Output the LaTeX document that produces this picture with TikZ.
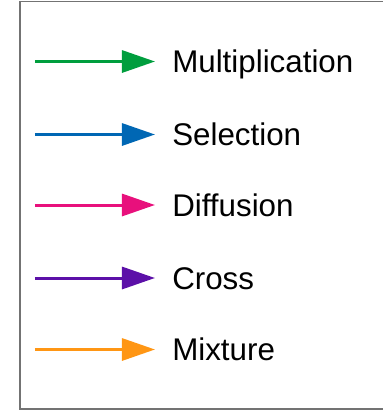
\documentclass[tikz,border=0pt]{standalone}
\usepackage{fontspec}
\setmainfont{Liberation Sans}
\usepackage{tikz}
\usetikzlibrary{arrows.meta}
\definecolor{c_mult}{RGB}{0,158,62}
\definecolor{c_sel}{RGB}{0,103,180}
\definecolor{c_diff}{RGB}{232,16,124}
\definecolor{c_cross}{RGB}{92,16,168}
\definecolor{c_mix}{RGB}{255,150,20}

\begin{document}
\begin{tikzpicture}[x=0.75pt,y=-0.75pt,
    frame_box/.style ={draw=black!55, line width=1.1pt},
    block_label/.style ={rectangle, draw=none, fill=none, anchor=west,
      inner sep=0pt, text height=16.8pt, text depth=0pt,
      font=\fontsize{23.5}{28}\selectfont},
    line/.style ={draw, line width=2.25pt,
      -{Triangle[length=24.75pt,width=16.5pt]}, shorten >=12.75pt}]
    \useasboundingbox (0,0) rectangle (383,412);
    % legend frame (right side runs past the page)
    \draw[frame_box] (20,1.5) rectangle (395,409);
    % labels
    \node [block_label] (mult)  at (172,61.5)  {Multiplication};
    \node [block_label] (sel)   at (172,134.5) {Selection};
    \node [block_label] (diff)  at (172,205)   {Diffusion};
    \node [block_label] (cross) at (172,278)   {Cross};
    \node [block_label] (mix)   at (172,349.5) {Mixture};
    % tails of the arrows
    \coordinate (mult_tail)  at (35,61.5);
    \coordinate (sel_tail)   at (35,134.5);
    \coordinate (diff_tail)  at (35,205);
    \coordinate (cross_tail) at (35,278);
    \coordinate (mix_tail)   at (35,349.5);
    % connecting tails with labels
    \begin{scope}[every path/.style=line]
      \path[draw=c_mult]  (mult_tail)  -- (mult.west);
      \path[draw=c_sel]   (sel_tail)   -- (sel.west);
      \path[draw=c_diff]  (diff_tail)  -- (diff.west);
      \path[draw=c_cross] (cross_tail) -- (cross.west);
      \path[draw=c_mix]   (mix_tail)   -- (mix.west);
    \end{scope}
\end{tikzpicture}
\end{document}
